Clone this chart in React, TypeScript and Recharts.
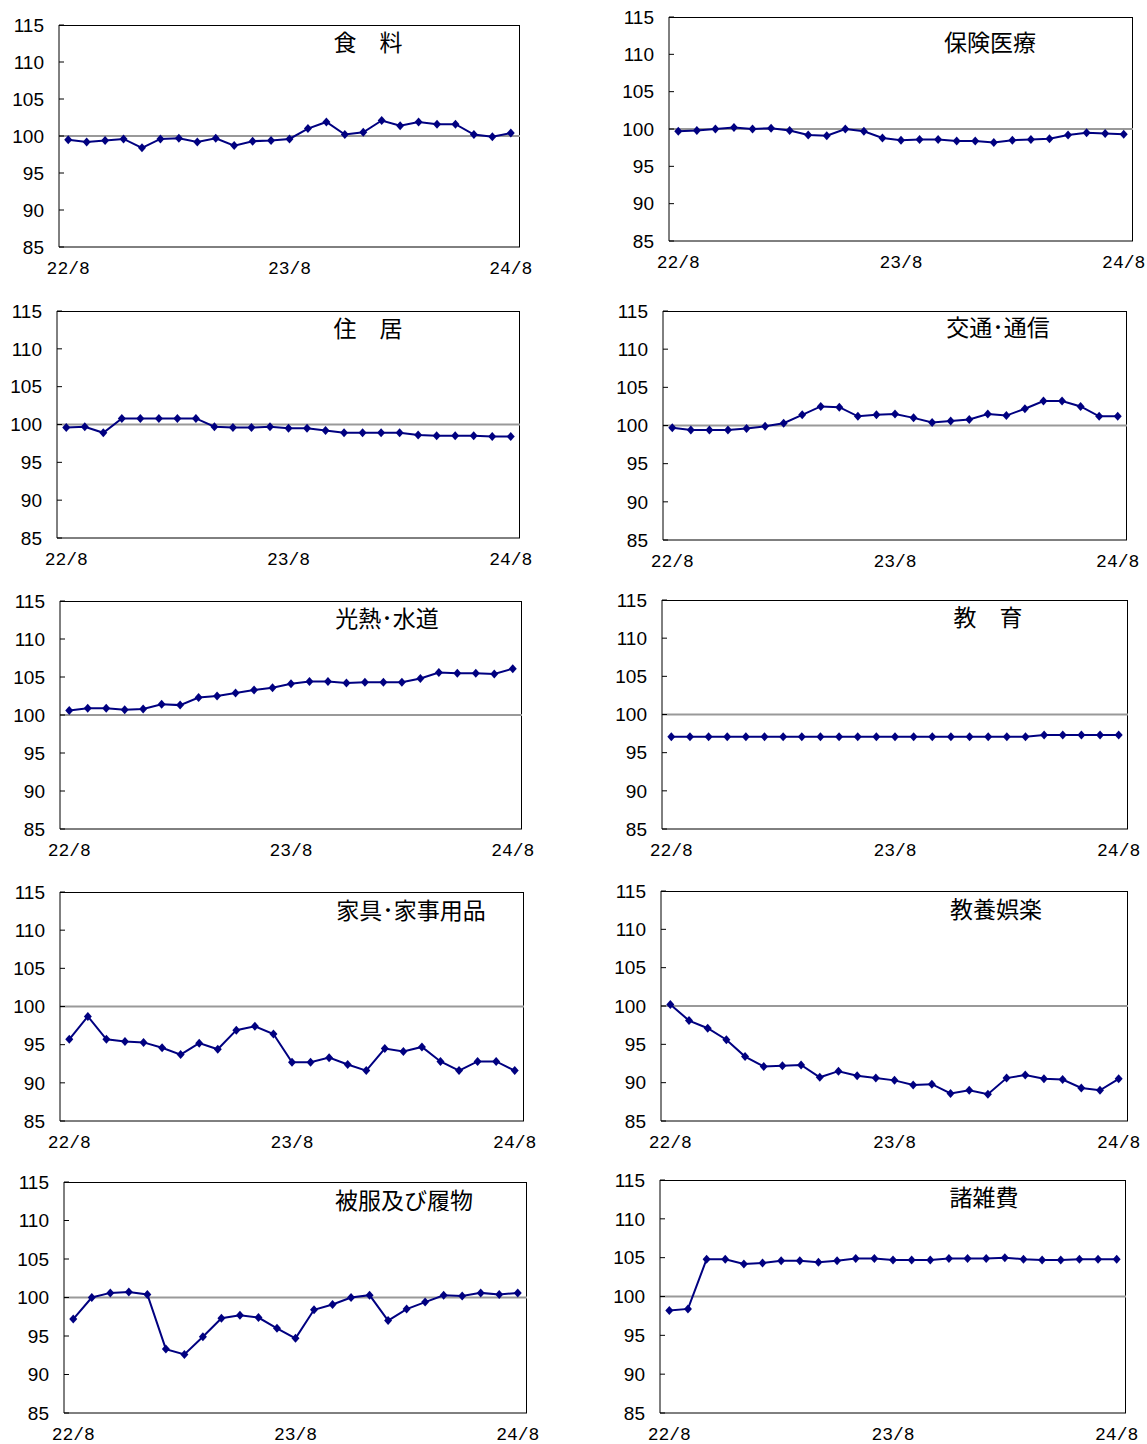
import { LineChart, Line, XAxis, YAxis, ReferenceLine, CartesianGrid } from 'recharts'

// months 22/8 .. 24/8
const months = [
  '22/8', '22/9', '22/10', '22/11', '22/12',
  '23/1', '23/2', '23/3', '23/4', '23/5', '23/6', '23/7', '23/8', '23/9', '23/10', '23/11', '23/12',
  '24/1', '24/2', '24/3', '24/4', '24/5', '24/6', '24/7', '24/8',
]
const xTicks = ['22/8', '23/8', '24/8']
const yTicks = [85, 90, 95, 100, 105, 110, 115]

const food = [99.5, 99.2, 99.4, 99.6, 98.4, 99.6, 99.7, 99.2, 99.7, 98.7, 99.3, 99.4, 99.6, 101.0, 101.9, 100.2, 100.5, 102.1, 101.4, 101.9, 101.6, 101.6, 100.2, 99.9, 100.4]
const medical = [99.7, 99.8, 100.0, 100.2, 100.0, 100.1, 99.8, 99.2, 99.1, 100.0, 99.7, 98.8, 98.5, 98.6, 98.6, 98.4, 98.4, 98.2, 98.5, 98.6, 98.7, 99.2, 99.5, 99.4, 99.3]
const housing = [99.6, 99.7, 98.9, 100.8, 100.8, 100.8, 100.8, 100.8, 99.7, 99.6, 99.6, 99.7, 99.5, 99.5, 99.2, 98.9, 98.9, 98.9, 98.9, 98.6, 98.5, 98.5, 98.5, 98.4, 98.4]
const transport = [99.7, 99.4, 99.4, 99.4, 99.6, 99.9, 100.3, 101.4, 102.5, 102.4, 101.2, 101.4, 101.5, 101.0, 100.4, 100.6, 100.8, 101.5, 101.3, 102.2, 103.2, 103.2, 102.5, 101.2, 101.2]
const utilities = [100.6, 100.9, 100.9, 100.7, 100.8, 101.4, 101.3, 102.3, 102.5, 102.9, 103.3, 103.6, 104.1, 104.4, 104.4, 104.2, 104.3, 104.3, 104.3, 104.8, 105.6, 105.5, 105.5, 105.4, 106.1]
const education = [97.1, 97.1, 97.1, 97.1, 97.1, 97.1, 97.1, 97.1, 97.1, 97.1, 97.1, 97.1, 97.1, 97.1, 97.1, 97.1, 97.1, 97.1, 97.1, 97.1, 97.3, 97.3, 97.3, 97.3, 97.3]
const furniture = [95.7, 98.7, 95.7, 95.4, 95.3, 94.6, 93.7, 95.2, 94.4, 96.9, 97.4, 96.4, 92.7, 92.7, 93.3, 92.4, 91.6, 94.5, 94.1, 94.7, 92.8, 91.6, 92.8, 92.8, 91.6]
const recreation = [100.2, 98.1, 97.1, 95.6, 93.4, 92.1, 92.2, 92.3, 90.7, 91.5, 90.9, 90.6, 90.3, 89.7, 89.8, 88.6, 89.0, 88.5, 90.6, 91.0, 90.5, 90.4, 89.3, 89.0, 90.5]
const clothing = [97.2, 100.0, 100.6, 100.7, 100.4, 93.3, 92.6, 94.9, 97.3, 97.7, 97.4, 96.0, 94.7, 98.4, 99.1, 100.0, 100.3, 97.0, 98.5, 99.4, 100.3, 100.2, 100.6, 100.4, 100.6]
const misc = [98.2, 98.4, 104.8, 104.8, 104.2, 104.3, 104.6, 104.6, 104.4, 104.6, 104.9, 104.9, 104.7, 104.7, 104.7, 104.9, 104.9, 104.9, 105.0, 104.8, 104.7, 104.7, 104.8, 104.8, 104.8]

// plot box [left, top, right, bottom] and title centre
const panels = [
  { title: '食　料', values: food, box: [59, 25, 520, 247], tx: 368, ty: 41 },
  { title: '保険医療', values: medical, box: [669, 17, 1133, 241], tx: 990, ty: 41 },
  { title: '住　居', values: housing, box: [57, 311, 520, 538], tx: 368, ty: 327 },
  { title: '交通･通信', values: transport, box: [663, 311, 1127, 540], tx: 998, ty: 326 },
  { title: '光熱･水道', values: utilities, box: [60, 601, 522, 829], tx: 387, ty: 617 },
  { title: '教　育', values: education, box: [662, 600, 1128, 829], tx: 988, ty: 616 },
  { title: '家具･家事用品', values: furniture, box: [60, 892, 524, 1121], tx: 411, ty: 909 },
  { title: '教養娯楽', values: recreation, box: [661, 891, 1128, 1121], tx: 996, ty: 908 },
  { title: '被服及び履物', values: clothing, box: [64, 1182, 527, 1413], tx: 404, ty: 1199 },
  { title: '諸雑費', values: misc, box: [660, 1180, 1126, 1413], tx: 984, ty: 1196 },
]

const NAVY = '#000080'

const Diamond = (props: any) => {
  const { cx, cy } = props
  if (cx == null || cy == null) return null
  return <path d={`M${cx},${cy - 4.5}L${cx + 4},${cy}L${cx},${cy + 4.5}L${cx - 4},${cy}Z`} fill={NAVY} />
}

const Panel = ({ p }: { p: any }) => {
  const [L, T, R, B] = p.box
  const w = R - L
  const h = B - T
  const padTop = 14
  const yw = 56
  const padRight = 28
  const xh = 36
  const data = months.map((m, i) => ({ m, v: p.values[i] }))
  const left = L - yw
  const top = T - padTop
  return (
    <div style={{ position: 'absolute', left, top }}>
      <LineChart
        width={w + yw + padRight}
        height={h + padTop + xh}
        data={data}
        margin={{ top: padTop, right: padRight, bottom: 0, left: 0 }}
        style={{ overflow: 'visible' }}
      >
        {/* top and right edges of the plot frame */}
        <CartesianGrid stroke="#000" horizontalPoints={[padTop + 0.5]} verticalPoints={[yw + w - 0.5]} />
        <XAxis
          dataKey="m"
          ticks={xTicks}
          interval={0}
          tickLine={false}
          axisLine={{ stroke: '#000' }}
          padding={{ left: w / 50, right: w / 50 }}
          height={xh}
          tickMargin={8}
          tick={{ fill: '#000', fontSize: 18, fontFamily: 'Liberation Mono' }}
        />
        <YAxis
          type="number"
          domain={[85, 115]}
          ticks={yTicks}
          interval={0}
          width={yw}
          tickSize={-5}
          tickMargin={20}
          axisLine={{ stroke: '#000' }}
          tickLine={{ stroke: '#000' }}
          tick={{ fill: '#000', fontSize: 19, fontFamily: 'Liberation Sans' }}
        />
        <ReferenceLine y={100} stroke="#999" strokeWidth={2} />
        <Line dataKey="v" stroke={NAVY} strokeWidth={2} dot={<Diamond />} activeDot={false} isAnimationActive={false} />
      </LineChart>
      <div
        style={{
          position: 'absolute',
          left: p.tx - left,
          top: p.ty - top,
          transform: 'translate(-50%, -50%)',
          fontFamily: '"Noto Sans CJK JP"',
          fontSize: 23,
          whiteSpace: 'nowrap',
          color: '#000',
        }}
      >
        {p.title}
      </div>
    </div>
  )
}

export default function App() {
  return (
    <div style={{ position: 'absolute', left: 0, top: 0, width: 1147, height: 1444, background: '#fff' }}>
      {panels.map((p) => (
        <Panel key={p.title} p={p} />
      ))}
    </div>
  )
}
